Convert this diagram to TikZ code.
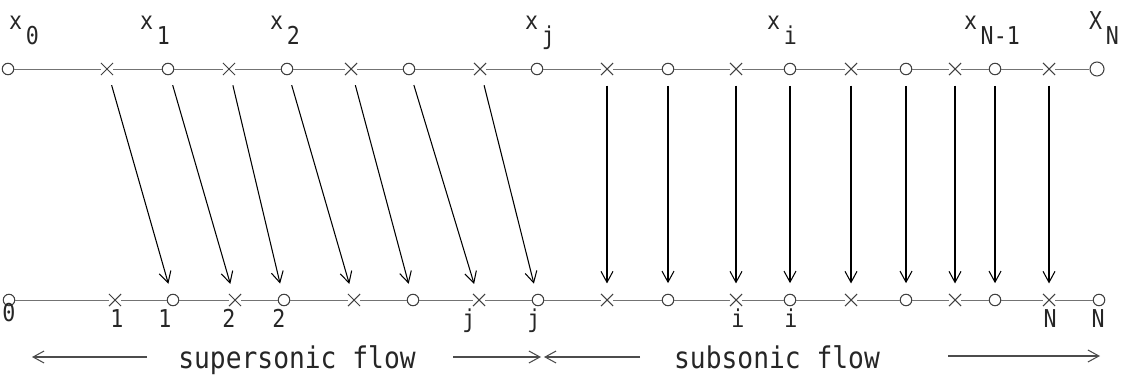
\documentclass[tikz,border=0pt]{standalone}
\usepackage{fontspec}
\newfontfamily\plotfont[FakeStretch=0.88]{DejaVu Sans Mono}
\usetikzlibrary{positioning,shapes.misc,arrows.meta}
\newcommand{\sublab}[2]{#1\hspace{2pt}\raisebox{-0.3cm}{#2}}
\begin{document}
\begin{tikzpicture}[x=0.02cm,y=-0.02cm,
        o/.style ={draw=black!75, circle, minimum size=2.3mm, inner sep=0pt, semithick},
        k/.style ={draw=black!75, cross out, minimum size=2.2mm, inner sep=0pt, semithick},
        lab/.style={font=\plotfont\fontsize{14}{14}\selectfont, text=black!85, inner sep=0pt, anchor=base},
        flow/.style={font=\plotfont\fontsize{17}{17}\selectfont, text=black!85, inner sep=0pt, anchor=base},
        arr/.style={-{Straight Barb[length=2.2mm,width=2.4mm]}, semithick, shorten <=6pt, shorten >=6pt},
        farr/.style={-{Straight Barb[length=2.2mm,width=2.4mm]}, black!70, semithick}]
    \useasboundingbox (0,0) rectangle (1125,375);
% Stuetzstellen oben (o = Knoten, x = Zwischenpunkt)
    \foreach \p [count=\i from 0] in {8,107,168,229,287,351,409,480,537,607,668,736,790,851,906,955,995,1049}
        {\ifodd\i \node[k] (t\i) at (\p,69){}; \else \node[o] (t\i) at (\p,69){}; \fi}
    \node[o, minimum size=2.8mm] (t18) at (1097,69){};
% Stuetzstellen unten
    \foreach \p [count=\i from 0] in {9,115,173,235,284,354,413,479,538,607,668,736,790,851,906,955,995,1049,1099}
        {\ifodd\i \node[k] (b\i) at (\p,300){}; \else \node[o] (b\i) at (\p,300){}; \fi}
    \foreach \i [count=\j] in {0,...,17} {\draw[black!55] (t\i) -- (t\j); \draw[black!55] (b\i) -- (b\j);}
% Beschriftung
    \foreach \p/\a/\s [count=\i from 0] in {24/x/0,155/x/1,285/x/2,540/x/j,782/x/i,992/x/N-1,1104/X/N}
        {\node[lab] (l\i) at (\p,30){\sublab{\a}{\s}};}
    \node[lab] (m0) at (9,321){0};
    \foreach \p/\s [count=\i] in {117/1,165/1,229/2,279/2,469/j,534/j,738/i,791/i,1050/N,1098/N}
        {\node[lab] (m\i) at (\p,327){\s};}
% Zuordnungen (schraeg = Ueberschall, senkrecht = Unterschall)
    \foreach \i [evaluate=\i as \j using int(\i+1)] in {1,...,7} {\draw[arr] (t\i) -- (b\j);}
    \foreach \i in {9,...,17} {\draw[arr] (t\i) -- (b\i);}
% Stroemungsrichtung
    \node[flow] (sup) at (297,368){supersonic flow};
    \node[flow] (sub) at (777,368){subsonic flow};
    \coordinate (f1) at (147,357); \coordinate (f2) at (32,357);
    \coordinate (f3) at (453,357); \coordinate (f4) at (541,357);
    \coordinate (f5) at (640,357); \coordinate (f6) at (544,357);
    \coordinate (f7) at (948,356); \coordinate (f8) at (1100,356);
    \draw[farr] (f1) -- (f2);
    \draw[farr] (f3) -- (f4);
    \draw[farr] (f5) -- (f6);
    \draw[farr] (f7) -- (f8);
\end{tikzpicture}
\end{document}
